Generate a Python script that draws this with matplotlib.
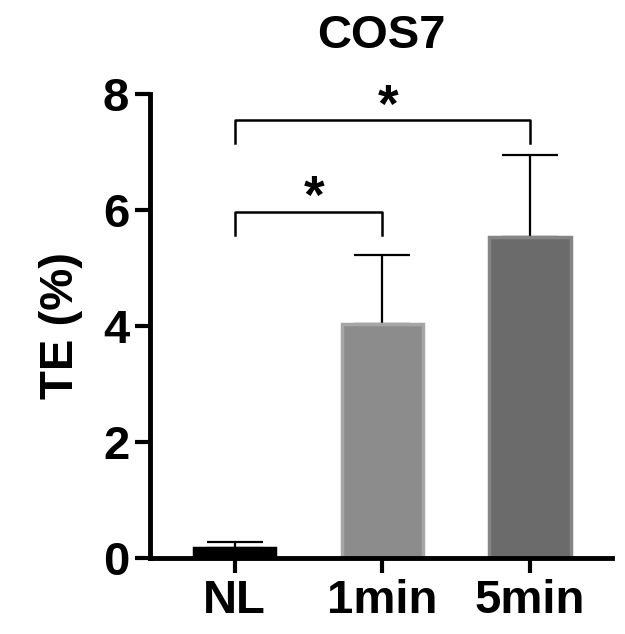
import matplotlib
matplotlib.use("Agg")
import matplotlib.pyplot as plt

categories = ["NL", "1min", "5min"]
values = [0.17, 4.03, 5.53]
errors = [0.10, 1.20, 1.42]
bar_colors = ["#000000", "#8c8c8c", "#6b6b6b"]
edge_colors = ["#000000", "#a6a6a6", "#858585"]
yticks = [0, 2, 4, 6, 8]
# significance brackets: (left idx, right idx, bar height, leg bottom, label)
brackets = [(0, 1, 5.97, 5.57, "*"), (0, 2, 7.55, 7.15, "*")]

plt.rcParams['font.family'] = ['Liberation Sans', 'DejaVu Sans']
plt.rcParams['font.weight'] = 'bold'

fig = plt.figure(figsize=(6.25, 6.34), dpi=100)
ax = fig.add_axes([0.240, 0.12, 0.739, 0.732])

x = list(range(len(categories)))
ax.bar(x, values, width=0.55, color=bar_colors, edgecolor=edge_colors,
       linewidth=2.5, zorder=2)
ax.errorbar(x, values, yerr=[[0]*len(errors), errors], fmt='none',
            ecolor='black', elinewidth=1.6, capsize=20, capthick=1.6, zorder=1)

for l, r, h, b, lab in brackets:
    ax.plot([l, l, r, r], [b, h, h, b], color='black', lw=1.8,
            clip_on=False, zorder=3)
    ax.text((l + r) / 2 + 0.04, h - 0.22, lab, ha='center', va='bottom',
            fontsize=38, fontweight='bold')

ax.set_xlim(-0.574, 2.554)
ax.set_ylim(0, 8)
ax.set_yticks(yticks)
ax.set_xticks(x)
ax.set_xticklabels(categories)
for s in ['top', 'right']:
    ax.spines[s].set_visible(False)
for s in ['left', 'bottom']:
    ax.spines[s].set_linewidth(3.5)
ax.tick_params(axis='both', width=3, length=11, labelsize=34, pad=4)
ax.set_ylabel("TE (%)", fontsize=34, fontweight='bold', labelpad=14)
ax.set_title("COS7", fontsize=34, fontweight='bold', pad=33)

fig.savefig("out.png", dpi=100)
